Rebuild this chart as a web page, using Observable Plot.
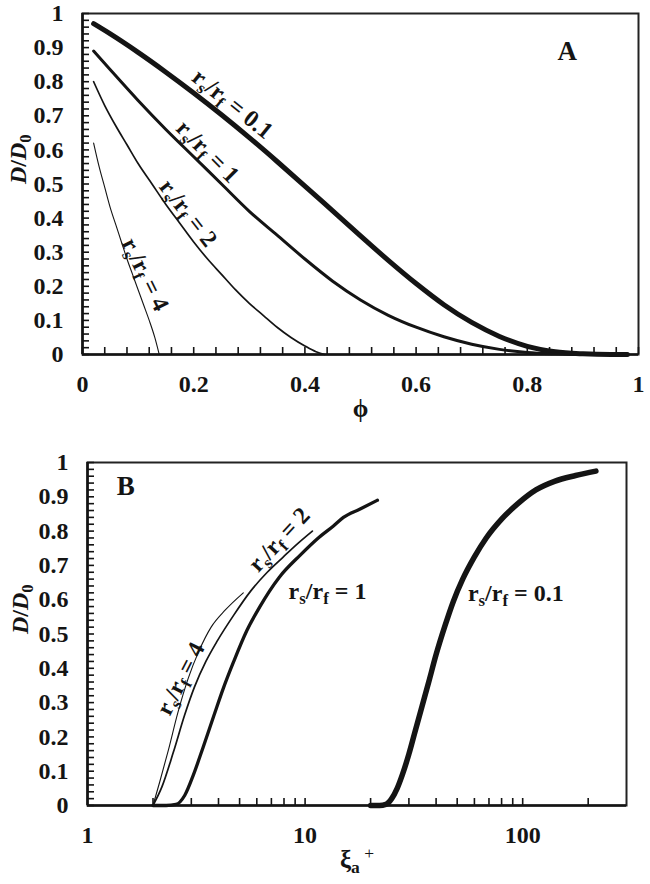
<!DOCTYPE html>
<html><head><meta charset="utf-8">
<script src="https://cdn.jsdelivr.net/npm/d3@7"></script>
<script src="https://cdn.jsdelivr.net/npm/@observablehq/plot@0.6"></script>
<style>
body{margin:0;background:#fff;}
#chart svg{display:block;}
</style></head><body><div id="chart"></div>
<script>
// ---------- Panel A: D/D0 vs phi ----------
const phiA01 = [0.02,0.05,0.1,0.15,0.2,0.25,0.3,0.35,0.4,0.45,0.5,0.55,0.6,0.65,0.7,0.75,0.8,0.85,0.9,0.95,0.98];
const dA01   = [0.97,0.94,0.886,0.828,0.767,0.703,0.636,0.566,0.494,0.421,0.348,0.276,0.208,0.146,0.094,0.053,0.024,0.008,0.002,0,0];
const phiA1 = [0.02,0.05,0.1,0.15,0.2,0.25,0.3,0.35,0.4,0.45,0.5,0.55,0.6,0.65,0.7,0.75,0.8,0.85,0.9,0.95];
const dA1   = [0.89,0.835,0.745,0.66,0.58,0.50,0.42,0.35,0.28,0.215,0.16,0.115,0.08,0.052,0.03,0.015,0.006,0.002,0,0];
const phiA2 = [0.02,0.04,0.06,0.08,0.1,0.125,0.15,0.175,0.2,0.225,0.25,0.275,0.3,0.325,0.35,0.375,0.4,0.42,0.435];
const dA2   = [0.80,0.73,0.67,0.615,0.56,0.50,0.44,0.385,0.33,0.28,0.235,0.19,0.15,0.115,0.08,0.05,0.025,0.008,0];
const phiA4 = [0.02,0.03,0.04,0.05,0.06,0.07,0.08,0.09,0.1,0.11,0.12,0.13,0.138];
const dA4   = [0.62,0.55,0.49,0.43,0.38,0.33,0.28,0.235,0.19,0.145,0.10,0.05,0];

// ---------- Panel B: D/D0 vs xi_a+ ----------
const xiB01 = [20,22,23.5,25,26.5,28,30,32,34.5,37,40,44,48,53,60,68,80,95,115,140,175,217];
const dB01  = [0,0,0.003,0.02,0.05,0.09,0.15,0.215,0.29,0.36,0.44,0.525,0.595,0.66,0.725,0.78,0.835,0.88,0.92,0.945,0.962,0.975];
const xiB1 = [2.0,2.3,2.55,2.8,3.07,3.4,3.8,4.2,4.7,5.4,6.2,7.6,9.5,11.5,13.5,15,18,21.5];
const dB1  = [0,0,0.003,0.03,0.09,0.17,0.26,0.34,0.42,0.51,0.58,0.665,0.73,0.78,0.815,0.84,0.865,0.89];
const xiB2 = [2.0,2.2,2.48,2.8,3.1,3.5,3.95,4.7,5.62,6.7,7.95,9.3,10.8];
const dB2  = [0,0.055,0.155,0.265,0.345,0.42,0.48,0.555,0.625,0.68,0.725,0.765,0.80];
const xiB4 = [2.0,2.15,2.35,2.6,2.9,3.25,3.7,4.3,5.2];
const dB4  = [0,0.07,0.16,0.27,0.37,0.45,0.52,0.57,0.62];

// ---------- ticks ----------
const yTicks  = [0,0.1,0.2,0.3,0.4,0.5,0.6,0.7,0.8,0.9,1];
const xTicksA = [0,0.2,0.4,0.6,0.8,1];
const xTicksB = [1,10,100];
const yMinor  = d3.range(0, 51).map(i => i / 50);
const xMinorA = d3.range(0, 26).map(i => i / 25);
const xMinorB = [2,3,4,5,6,7,8,9,10,20,30,40,50,60,70,80,90,100,200];

// ---------- curve labels ----------
const seriesNames = ["0.1","1","2","4"];
const labA = {x:[0.27,0.225,0.19,0.113], y:[0.735,0.595,0.415,0.235], rot:[39,45,52,64], anchor:["middle","middle","middle","middle"]};
const labB = {x:[56,8.4,7.6,2.68], y:[0.62,0.625,0.775,0.37], rot:[0,0,-47,-63], anchor:["start","start","middle","middle"]};

const FONT = '"Liberation Serif","Times New Roman",Times,serif';
const INK = "#141414";
const pts = (xs, ys) => xs.map((x, i) => ({x, y: ys[i]}));

function rich(t, parts) {
  while (t.firstChild) t.removeChild(t.firstChild);
  let cur = 0;
  for (const p of parts) {
    const ts = document.createElementNS("http://www.w3.org/2000/svg", "tspan");
    const target = p.sub ? 5 : p.sup ? -9 : 0;
    if (target !== cur) ts.setAttribute("dy", target - cur);
    cur = target;
    if (p.sub || p.sup) ts.setAttribute("font-size", "70%");
    if (p.it) ts.setAttribute("font-style", "italic");
    if (p.w) ts.setAttribute("font-weight", p.w);
    ts.textContent = p.t;
    t.appendChild(ts);
  }
}
function ratioParts(v, it) {
  return [{t:"r", it}, {t:"s", sub:true}, {t:"/"}, {t:"r", it}, {t:"f", sub:true}, {t:" = " + v}];
}

function panel(cfg) {
  const W = 650, pw = W - cfg.ml - cfg.mr, ph = cfg.h - cfg.mt - cfg.mb;
  const lineMarks = cfg.series.map(s =>
    Plot.line(pts(s.x, s.y), {x: "x", y: "y", stroke: INK, strokeWidth: s.w, curve: "monotone-x", strokeLinecap: "round", strokeLinejoin: "round"}));
  const idx = [0,1,2,3];
  const labelMark = anchor => Plot.text(idx.filter(i => cfg.lab.anchor[i] === anchor), {
    x: i => cfg.lab.x[i], y: i => cfg.lab.y[i], rotate: i => cfg.lab.rot[i],
    text: i => "RATIO" + seriesNames[i], textAnchor: anchor,
    fontSize: 24, fontWeight: "bold", fill: INK});
  return Plot.plot({
    width: W, height: cfg.h,
    marginTop: cfg.mt, marginRight: cfg.mr, marginBottom: cfg.mb, marginLeft: cfg.ml,
    style: {fontFamily: FONT, fontSize: "24px", fontWeight: "bold", color: INK, background: "white", overflow: "visible"},
    x: cfg.x,
    y: {domain: [0, 1]},
    marks: [
      Plot.frame({stroke: "#222", strokeWidth: 2}),
      Plot.tickY(yMinor, {y: d => d, insetRight: pw - 7, stroke: INK, strokeWidth: 1.6}),
      Plot.tickX(cfg.xMinor, {x: d => d, insetTop: ph - 7, stroke: INK, strokeWidth: 1.6}),
      Plot.ruleX([cfg.x.domain[0]], {stroke: INK, strokeWidth: 2.6}),
      Plot.ruleY([0], {stroke: INK, strokeWidth: 2.6}),
      Plot.axisY({ticks: yTicks, tickSize: 0, tickPadding: 19, tickFormat: d => String(d), label: null, fontWeight: "bold"}),
      Plot.axisX({ticks: cfg.xTicks, tickSize: 0, tickPadding: 20, tickFormat: d => String(d), label: null, fontWeight: "bold"}),
      ...lineMarks,
      labelMark("middle"),
      labelMark("start"),
      Plot.text([cfg.panelLetter], {x: cfg.letterPos[0], y: cfg.letterPos[1], text: d => d, fontSize: 27, fontWeight: "bold", fill: INK}),
      Plot.text(["XTITLE"], {frameAnchor: "bottom", dy: 62, text: d => d, fontSize: 25, fontWeight: "bold", fill: INK}),
      Plot.text(["YTITLE"], {frameAnchor: "left", dx: cfg.ytDx, rotate: -90, text: d => d, fontSize: 24, fontWeight: "bold", fill: INK})
    ]
  });
}

const svgA = panel({
  h: 440, mt: 13, mr: 12, mb: 86, ml: 82,
  x: {domain: [0, 1]}, xTicks: xTicksA, xMinor: xMinorA,
  series: [{x: phiA01, y: dA01, w: 5}, {x: phiA1, y: dA1, w: 3}, {x: phiA2, y: dA2, w: 1.7}, {x: phiA4, y: dA4, w: 1.1}],
  lab: labA, panelLetter: "A", letterPos: [0.872, 0.89], ytDx: -64
});
const svgB = panel({
  h: 444, mt: 22, mr: 24, mb: 79, ml: 87,
  x: {type: "log", domain: [1, 300]}, xTicks: xTicksB, xMinor: xMinorB,
  series: [{x: xiB01, y: dB01, w: 5.5}, {x: xiB1, y: dB1, w: 3.3}, {x: xiB2, y: dB2, w: 1.7}, {x: xiB4, y: dB4, w: 1.1}],
  lab: labB, panelLetter: "B", letterPos: [1.5, 0.93], ytDx: -67
});

function finish(svg, xtitle, italicR) {
  for (const t of svg.querySelectorAll("text")) {
    const s = t.textContent;
    if (s.startsWith("RATIO")) {
      const v = s.slice(5);
      const horiz = !(t.getAttribute("transform") || "").includes("rotate");
      rich(t, ratioParts(v, italicR && horiz));
    } else if (s === "YTITLE") {
      rich(t, [{t:"D", it:true}, {t:"/"}, {t:"D", it:true}, {t:"0", sub:true}]);
    } else if (s === "XTITLE") {
      rich(t, xtitle);
    }
  }
  return svg;
}
finish(svgA, [{t:"ϕ"}], false);
finish(svgB, [{t:"ξ"}, {t:"a", sub:true}, {t:" +", sup:true, w:"normal"}], true);
document.getElementById("chart").append(svgA, svgB);
</script>
</body></html>
